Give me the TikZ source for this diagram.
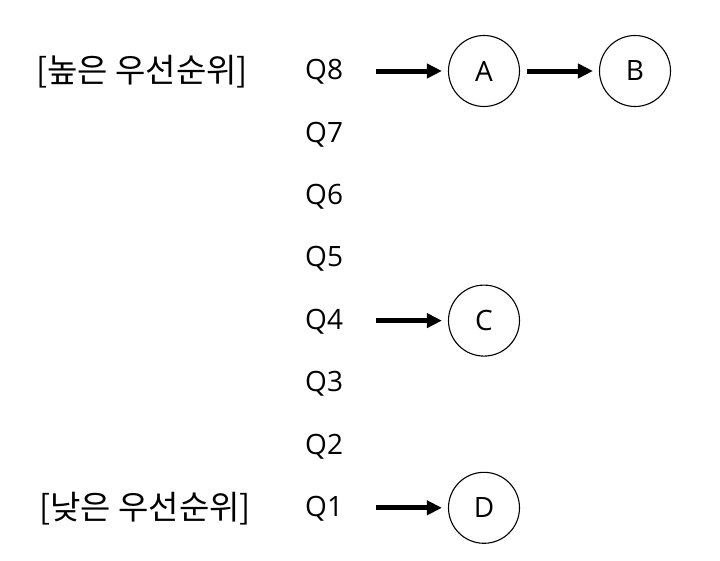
\documentclass[tikz,border=0pt]{standalone}
\usepackage{fontspec}
\setmainfont{Open Sans}
\newfontfamily\kofont{Noto Sans CJK KR}
\usetikzlibrary{arrows.meta}
\usetikzlibrary{positioning}
\tikzset{
	qlabel/.style={inner sep=0pt, anchor=west, font=\fontsize{28}{30}\selectfont},
	klabel/.style={inner sep=0pt, font=\kofont\fontsize{33}{35}\selectfont},
	proc/.style={draw, circle, line width=1.1pt, minimum size=71pt, inner sep=0pt, font=\fontsize{28}{30}\selectfont},
	ptr/.style={-{Triangle[length=15pt,width=14pt]}, line width=5pt, shorten >=6pt}
}

\begin{document}
\begin{tikzpicture}[x=1pt,y=-1pt]
	\useasboundingbox (0,0) rectangle (720,560);
	\def\qx{305}
	\def\gap{62.4}
	\def\top{72}

	\node[klabel] (high) at (142,\top) {[높은 우선순위]};
	\node[klabel] (low) at (145,{\top+7*\gap}) {[낮은 우선순위]};

	\node[qlabel] (q8) at (\qx,{\top+0*\gap}) {Q8};
	\node[qlabel] (q7) at (\qx,{\top+1*\gap}) {Q7};
	\node[qlabel] (q6) at (\qx,{\top+2*\gap}) {Q6};
	\node[qlabel] (q5) at (\qx,{\top+3*\gap}) {Q5};
	\node[qlabel] (q4) at (\qx,{\top+4*\gap}) {Q4};
	\node[qlabel] (q3) at (\qx,{\top+5*\gap}) {Q3};
	\node[qlabel] (q2) at (\qx,{\top+6*\gap}) {Q2};
	\node[qlabel] (q1) at (\qx,{\top+7*\gap}) {Q1};

	\node[proc] (A) at (484,{\top-1}) {A};
	\node[proc] (B) at (635,{\top-1}) {B};
	\node[proc] (C) at (484,{\top+4*\gap-1}) {C};
	\node[proc] (D) at (484,{\top+7*\gap-1}) {D};

	\draw[ptr, shorten <=33pt] (q8.east |- A) -- (A);
	\draw[ptr, shorten <=7pt] (A) -- (B);
	\draw[ptr, shorten <=33pt] (q4.east |- C) -- (C);
	\draw[ptr, shorten <=33pt] (q1.east |- D) -- (D);
\end{tikzpicture}
\end{document}
